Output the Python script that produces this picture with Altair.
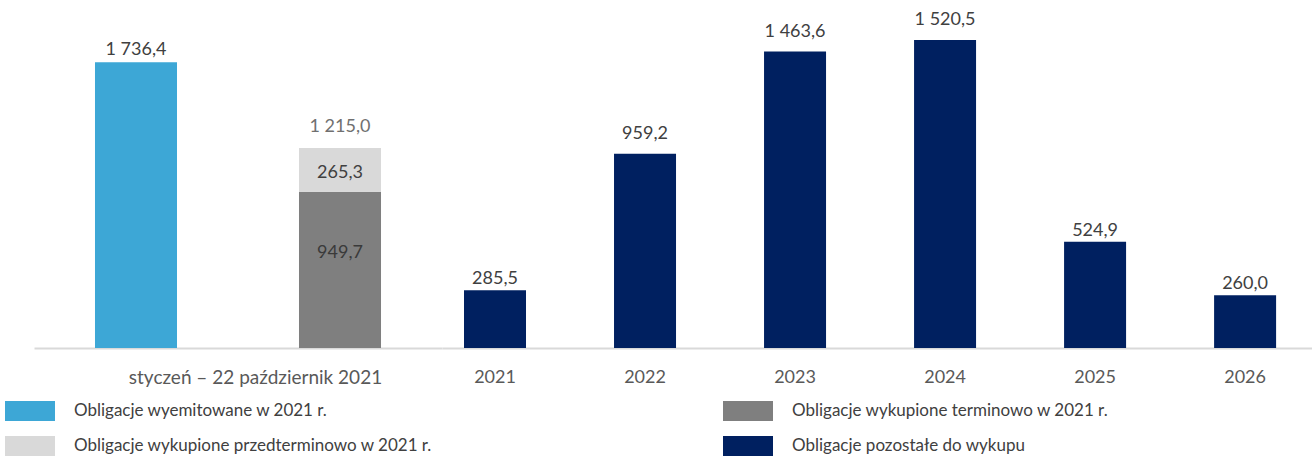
import altair as alt
import pandas as pd

FONT = "Lato"

# legend order is column-major: col 1 = first two, col 2 = last two
series = [
    "Obligacje wyemitowane w 2021 r.",
    "Obligacje wykupione przedterminowo w 2021 r.",
    "Obligacje wykupione terminowo w 2021 r.",
    "Obligacje pozostałe do wykupu",
]
colors = ["#3DA7D6", "#D9D9D9", "#7F7F7F", "#002060"]

period_label = "styczeń – 22 październik 2021"
issued = 1736.4
redeemed_term = 949.7
redeemed_early = 265.3

years = ["2021", "2022", "2023", "2024", "2025", "2026"]
remaining = [285.5, 959.2, 1463.6, 1520.5, 524.9, 260.0]
# years whose value label sits a bit higher above the bar
raised_label_years = ["2022", "2023", "2024"]


def fmt(v):
    return f"{v:,.1f}".replace(",", " ").replace(".", ",")


color_scale = alt.Scale(domain=series, range=colors)
legend = alt.Legend(
    title=None, orient="none", legendX=-29, legendY=401, columns=2,
    columnPadding=290, rowPadding=15,
    symbolType="M-1,-1H4V1H-1Z", symbolSize=400, symbolStrokeWidth=0,
    labelOffset=49, labelFont=FONT, labelFontSize=17, labelColor="#404040",
    labelLimit=600,
)

# ---------- left panel ----------
left = pd.DataFrame({
    "slot": ["A", "B", "B"],
    "series": [series[0], series[2], series[1]],
    "value": [issued, redeemed_term, redeemed_early],
    "ord": [0, 0, 1],
})
left_y = alt.Scale(domain=[0, 2115])
left_x_scale = alt.Scale(paddingInner=0.598, paddingOuter=0.299)
left_axis = alt.Axis(
    labels=False, ticks=False, tickSize=0, domainColor="#D9D9D9", domainWidth=2,
    title=period_label, titleFont=FONT, titleFontSize=19, titleFontWeight="normal",
    titleColor="#595959", titleX=221, titleY=20, titleBaseline="top", titleAlign="center",
)

left_bars = alt.Chart(left).mark_bar().encode(
    x=alt.X("slot:N", scale=left_x_scale, axis=left_axis),
    y=alt.Y("value:Q", stack="zero", scale=left_y, axis=None),
    color=alt.Color("series:N", scale=color_scale, legend=legend),
    order=alt.Order("ord:Q"),
)

top_dark = pd.DataFrame({"slot": ["A"], "total": [issued], "label": [fmt(issued)]})
total_b = redeemed_term + redeemed_early
top_light = pd.DataFrame({"slot": ["B"], "total": [total_b], "label": [fmt(total_b)]})

txt_dark = alt.Chart(top_dark).mark_text(
    font=FONT, fontSize=18, color="#404040", baseline="alphabetic", dy=-7
).encode(x="slot:N", y=alt.Y("total:Q", scale=left_y, axis=None), text="label:N")

txt_light = alt.Chart(top_light).mark_text(
    font=FONT, fontSize=18, color="#707070", baseline="alphabetic", dy=-16
).encode(x="slot:N", y=alt.Y("total:Q", scale=left_y, axis=None), text="label:N")

seg_early = pd.DataFrame({"slot": ["B"], "mid": [redeemed_term + redeemed_early / 2],
                          "label": [fmt(redeemed_early)]})
seg_term = pd.DataFrame({"slot": ["B"], "mid": [redeemed_term / 2],
                         "label": [fmt(redeemed_term)]})
txt_early = alt.Chart(seg_early).mark_text(
    font=FONT, fontSize=18, color="#404040", baseline="middle", dy=3
).encode(x="slot:N", y=alt.Y("mid:Q", scale=left_y, axis=None), text="label:N")
txt_term = alt.Chart(seg_term).mark_text(
    font=FONT, fontSize=18, color="#3A3A3A", baseline="middle", dy=-17
).encode(x="slot:N", y=alt.Y("mid:Q", scale=left_y, axis=None), text="label:N")

left_chart = alt.layer(left_bars, txt_dark, txt_light, txt_early, txt_term).properties(
    width=408, height=348
)

# ---------- right panel ----------
right = pd.DataFrame({
    "year": years,
    "value": remaining,
    "series": [series[3]] * len(years),
    "label": [fmt(v) for v in remaining],
    "raised": [y in raised_label_years for y in years],
})
right_y = alt.Scale(domain=[0, 1718])
right_x = alt.X(
    "year:N",
    scale=alt.Scale(paddingInner=0.5867, paddingOuter=0.193, align=0.38),
    axis=alt.Axis(
        title=None, labelAngle=0, ticks=False, tickSize=0, labelPadding=20,
        labelFont=FONT, labelFontSize=18, labelColor="#595959",
        domainColor="#D9D9D9", domainWidth=2,
    ),
)
right_bars = alt.Chart(right).mark_bar().encode(
    x=right_x,
    y=alt.Y("value:Q", scale=right_y, axis=None),
    color=alt.Color("series:N", scale=color_scale, legend=legend),
)
text_enc = dict(
    x=alt.X("year:N"),
    y=alt.Y("value:Q", scale=right_y, axis=None),
    text="label:N",
)
right_text_low = alt.Chart(right).transform_filter("!datum.raised").mark_text(
    font=FONT, fontSize=18, color="#404040", baseline="alphabetic", dy=-6
).encode(**text_enc)
right_text_high = alt.Chart(right).transform_filter("datum.raised").mark_text(
    font=FONT, fontSize=18, color="#404040", baseline="alphabetic", dy=-15
).encode(**text_enc)
right_chart = alt.layer(right_bars, right_text_low, right_text_high).properties(
    width=870, height=348
)

chart = alt.hconcat(left_chart, right_chart, spacing=0).properties(
    padding={"left": 5, "top": 0, "right": 0, "bottom": 0}
).configure_view(stroke=None).configure_axis(grid=False)

chart.save("out.html", embed_options={"renderer": "svg", "actions": False})
